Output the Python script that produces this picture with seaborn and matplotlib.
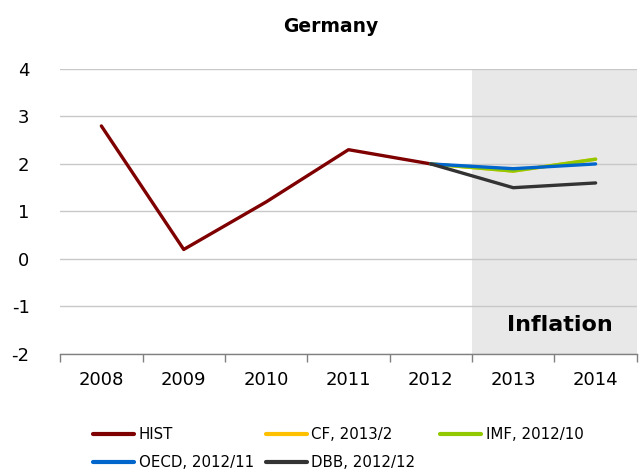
import matplotlib
matplotlib.use("Agg")
import matplotlib.pyplot as plt
import seaborn as sns
import pandas as pd
from matplotlib.lines import Line2D

sns.set_theme(style="white")
plt.rcParams['font.family'] = ['DejaVu Sans']

years = [2008, 2009, 2010, 2011, 2012, 2013, 2014]
hist_years = [2008, 2009, 2010, 2011, 2012]
hist = [2.8, 0.2, 1.2, 2.3, 2.0]
fc_years = [2012, 2013, 2014]
cf = [2.0, 1.85, 2.1]
imf = [2.0, 1.85, 2.1]
oecd = [2.0, 1.9, 2.0]
dbb = [2.0, 1.5, 1.6]

series = {
    "HIST": (hist_years, hist, "#7F0000"),
    "CF, 2013/2": (fc_years, cf, "#FFC000"),
    "IMF, 2012/10": (fc_years, imf, "#92C800"),
    "OECD, 2012/11": (fc_years, oecd, "#0066CC"),
    "DBB, 2012/12": (fc_years, dbb, "#333333"),
}

rows = []
for name, (xs, ys, _) in series.items():
    for x, y in zip(xs, ys):
        rows.append({"year": x, "value": y, "series": name})
df = pd.DataFrame(rows)
palette = {k: v[2] for k, v in series.items()}

fig = plt.figure(figsize=(6.4, 4.72), dpi=100)
ax = fig.add_axes([0.094, 0.25, 0.901, 0.604])

ax.axvspan(2012.5, 2014.5, color="#E8E8E8", zorder=0, lw=0)
ax.set_yticks(range(-2, 5))
ax.yaxis.grid(True, color="#C8C8C8", lw=1)
ax.set_axisbelow(True)

sns.lineplot(data=df, x="year", y="value", hue="series", palette=palette,
             hue_order=list(series.keys()), linewidth=2.4, ax=ax, legend=False,
             sort=False, estimator=None)

ax.set_xlim(2007.5, 2014.5)
ax.set_ylim(-2, 4)
ax.set_xticks(years)
ax.set_xticklabels([str(y) for y in years], fontsize=13, color="black")
ax.set_xticks([2007.5 + i for i in range(8)], minor=True)
ax.tick_params(axis="x", which="major", length=0, pad=12)
ax.tick_params(axis="x", which="minor", length=6, width=1, color="#808080", direction="out", bottom=True)
ax.tick_params(axis="y", length=0, labelsize=13, pad=22, labelcolor="black")
ax.set_yticklabels([str(v) for v in range(-2, 5)])
ax.set_xlabel("")
ax.set_ylabel("")
for s in ["top", "right", "left"]:
    ax.spines[s].set_visible(False)
ax.spines["bottom"].set_color("#808080")
ax.spines["bottom"].set_linewidth(1)

fig.text(0.517, 1 - 27 / 472, "Germany", ha="center", va="center",
         fontsize=13.5, fontweight="bold", color="black")
ax.text(0.958, 0.1, "Inflation", transform=ax.transAxes, ha="right", va="center",
        fontsize=16, fontweight="bold", color="black")

names = list(series.keys())
columns = [[0, 3], [1, 4], [2]]
col_x = [0.145, 0.415, 0.6875]
for idxs, cx in zip(columns, col_x):
    handles = [Line2D([0], [0], color=series[names[i]][2], lw=3) for i in idxs]
    labels = [names[i] for i in idxs]
    leg = fig.legend(handles, labels, loc="upper left", bbox_to_anchor=(cx, 0.095),
                     ncol=1, frameon=False, fontsize=10.8, handlelength=2.75,
                     handletextpad=0.3, labelspacing=0.85, borderaxespad=0, borderpad=0)
    for t in leg.get_texts():
        t.set_color("black")

fig.savefig("out.png", dpi=100)
